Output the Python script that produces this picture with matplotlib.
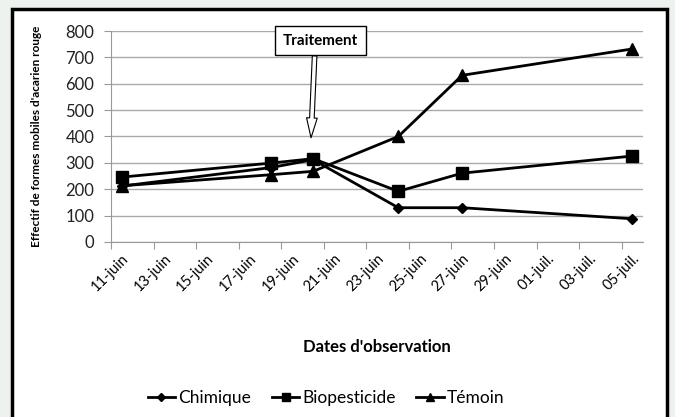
import matplotlib
matplotlib.use('Agg')
import matplotlib.pyplot as plt
import matplotlib.patches as patches
import pandas as pd

# observation dates and counts
dates = ['2012-06-11', '2012-06-18', '2012-06-20', '2012-06-24', '2012-06-27', '2012-07-05']
chimique = [212, 282, 312, 130, 130, 88]
biopesticide = [246, 299, 316, 192, 261, 326]
temoin = [213, 255, 268, 400, 632, 732]
tick_labels = ['11-juin', '13-juin', '15-juin', '17-juin', '19-juin', '21-juin', '23-juin',
               '25-juin', '27-juin', '29-juin', '01-juil.', '03-juil.', '05-juil.']

start = pd.Timestamp('2012-06-11')
x = [(pd.Timestamp(d) - start).days + 0.5 for d in dates]

plt.rcParams['font.family'] = ['Lato', 'DejaVu Sans']

fig = plt.figure(figsize=(6.75, 4.17), dpi=100, facecolor='#eef2ee')
fig.patches.append(patches.Rectangle((12 / 675, -0.1), 655 / 675, 1.1 - 9 / 417,
                                     transform=fig.transFigure, facecolor='white',
                                     edgecolor='black', linewidth=2.5, zorder=-10))
ax = fig.add_axes([111 / 675, 1 - 242 / 417, 532 / 675, 211 / 417])
ax.set_zorder(1)
ax.set_facecolor('white')

ax.plot(x, chimique, color='black', lw=2, marker='D', ms=5, label='Chimique')
ax.plot(x, biopesticide, color='black', lw=2, marker='s', ms=8, label='Biopesticide')
ax.plot(x, temoin, color='black', lw=2, marker='^', ms=8, label='Témoin')

ax.set_ylim(0, 800)
ax.set_yticks(range(0, 801, 100))
ax.set_xlim(0, 25)
ax.set_xticks(range(0, 25, 2))
ax.set_xticklabels([])
ax.set_xticks([i + 0.5 for i in range(0, 25, 2)], minor=True)
ax.set_xticklabels(tick_labels, minor=True, rotation=45, ha='right', va='top',
                   rotation_mode='anchor', fontsize=10.5)
ax.tick_params(axis='x', which='minor', length=0, pad=7)
ax.tick_params(axis='x', which='major', length=5, color='#999999', direction='out')
ax.tick_params(axis='y', length=5, color='#999999', labelsize=12, pad=7, labelcolor='#222222')
ax.grid(axis='y', color='#aaaaaa', lw=1)
ax.set_axisbelow(True)
for s in ['top', 'right']:
    ax.spines[s].set_visible(False)
for s in ['left', 'bottom']:
    ax.spines[s].set_color('#999999')

ax.set_ylabel("Effectif de formes mobiles d'acarien rouge", fontsize=8.5, fontweight='bold')
ax.yaxis.set_label_coords(-0.13, 0.5)
ax.set_xlabel("Dates d'observation", fontsize=12, fontweight='bold', labelpad=32)

ax.annotate('Traitement', xy=(9.4, 395), xytext=(9.4 + 0.45, 763),
            fontsize=11, fontweight='bold', ha='center', va='center',
            annotation_clip=False,
            bbox=dict(boxstyle='square,pad=0.5', fc='white', ec='black', lw=1),
            arrowprops=dict(arrowstyle='simple,head_width=0.7,head_length=1.3,tail_width=0.3',
                            fc='white', ec='black', lw=0.8, relpos=(0.425, 0), shrinkA=0, shrinkB=0))

fig.legend(loc='center', bbox_to_anchor=(326 / 675, 1 - 398 / 417), ncol=3, frameon=False,
           fontsize=12.5, handlelength=1.6, columnspacing=1.2, handletextpad=0.15, markerscale=0.75)

fig.savefig('out.png', dpi=100, facecolor=fig.get_facecolor())
